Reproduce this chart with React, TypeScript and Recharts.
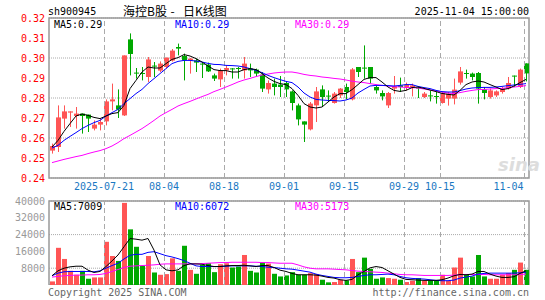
import {
  Bar,
  CartesianGrid,
  ComposedChart,
  Line,
  ReferenceArea,
  ReferenceLine,
  XAxis,
  YAxis,
} from "recharts";

const MONO = "'DejaVu Sans Mono', monospace";
const CJK = "'Noto Sans CJK SC', sans-serif";
const RED = "#ff5555";
const GREEN = "#00a800";
const GRID = "#aaaaaa";
const BORDER = "#999999";
const AXIS_BLUE = "#1a78c2";

const dates = [
  "07-08", "07-09", "07-10", "07-11", "07-14", "07-15", "07-16", "07-17", "07-18", "07-21",
  "07-22", "07-23", "07-24", "07-25", "07-28", "07-29", "07-30", "07-31", "08-01", "08-04",
  "08-05", "08-06", "08-07", "08-08", "08-11", "08-12", "08-13", "08-14", "08-15", "08-18",
  "08-19", "08-20", "08-21", "08-22", "08-25", "08-26", "08-27", "08-28", "08-29", "09-01",
  "09-02", "09-03", "09-04", "09-05", "09-08", "09-09", "09-10", "09-11", "09-12", "09-15",
  "09-16", "09-17", "09-18", "09-19", "09-22", "09-23", "09-24", "09-25", "09-26", "09-29",
  "09-30", "10-09", "10-10", "10-13", "10-14", "10-15", "10-16", "10-17", "10-20", "10-21",
  "10-22", "10-23", "10-24", "10-27", "10-28", "10-29", "10-30", "10-31", "11-03", "11-04",
];

const opens = [
  0.2537, 0.2555, 0.2697, 0.2727, 0.271, 0.2722, 0.2717, 0.2647, 0.2667, 0.2683,
  0.2783, 0.2763, 0.2713, 0.3093, 0.2927, 0.2925, 0.2905, 0.2962, 0.2937, 0.2955,
  0.2987, 0.3055, 0.301, 0.2988, 0.2988, 0.2972, 0.2967, 0.2913, 0.2893, 0.2938,
  0.2948, 0.295, 0.2938, 0.2947, 0.2942, 0.2917, 0.2843, 0.2872, 0.2867, 0.2875,
  0.2833, 0.2763, 0.2683, 0.2643, 0.2763, 0.2843, 0.2812, 0.2775, 0.2813, 0.2855,
  0.2793, 0.2955, 0.2952, 0.2955, 0.2855, 0.2825, 0.2763, 0.2847, 0.2863, 0.285,
  0.2855, 0.2852, 0.2805, 0.2813, 0.281, 0.2775, 0.2797, 0.2797, 0.2877, 0.2925,
  0.2922, 0.2925, 0.2842, 0.2805, 0.2813, 0.283, 0.2847, 0.2912, 0.2855, 0.2973,
];
const highs = [
  0.2572, 0.2763, 0.2763, 0.2733, 0.2755, 0.2722, 0.2717, 0.2688, 0.2697, 0.2793,
  0.2872, 0.2843, 0.3013, 0.3123, 0.295, 0.2955, 0.3005, 0.298, 0.2983, 0.3002,
  0.3045, 0.3072, 0.3022, 0.3, 0.2997, 0.2977, 0.2977, 0.2922, 0.2947, 0.2963,
  0.295, 0.2955, 0.3005, 0.2972, 0.2947, 0.293, 0.2888, 0.2897, 0.291, 0.288,
  0.2838, 0.2772, 0.2683, 0.278, 0.2855, 0.2863, 0.2838, 0.283, 0.285, 0.2872,
  0.295, 0.2955, 0.3063, 0.2955, 0.2863, 0.2838, 0.283, 0.291, 0.2902, 0.2877,
  0.2872, 0.2855, 0.283, 0.2838, 0.283, 0.283, 0.283, 0.2897, 0.2955, 0.2942,
  0.2927, 0.293, 0.2855, 0.2847, 0.2838, 0.2855, 0.2905, 0.2912, 0.2947, 0.2973,
];
const lows = [
  0.2522, 0.253, 0.2647, 0.2655, 0.2647, 0.2622, 0.263, 0.2638, 0.2638, 0.2663,
  0.2738, 0.27, 0.271, 0.2913, 0.2897, 0.2888, 0.288, 0.2905, 0.293, 0.2947,
  0.2982, 0.3013, 0.2888, 0.2922, 0.293, 0.29, 0.293, 0.2885, 0.2855, 0.2913,
  0.2897, 0.2897, 0.2897, 0.2905, 0.2905, 0.283, 0.2822, 0.2813, 0.2805, 0.2805,
  0.2738, 0.2663, 0.258, 0.2638, 0.268, 0.2755, 0.278, 0.2772, 0.28, 0.2793,
  0.2788, 0.2905, 0.2897, 0.2872, 0.2822, 0.2788, 0.275, 0.2822, 0.283, 0.2838,
  0.2808, 0.28, 0.28, 0.2783, 0.2772, 0.2772, 0.2762, 0.2768, 0.2867, 0.2897,
  0.2888, 0.2772, 0.2793, 0.2797, 0.2805, 0.2822, 0.2842, 0.2855, 0.285, 0.2883,
];
const closes = [
  0.256, 0.2703, 0.2733, 0.2733, 0.2722, 0.271, 0.2697, 0.2667, 0.268, 0.2783,
  0.2793, 0.2742, 0.3013, 0.302, 0.2922, 0.292, 0.2993, 0.2957, 0.2972, 0.3002,
  0.3037, 0.3047, 0.2988, 0.2997, 0.2977, 0.297, 0.2933, 0.2897, 0.2938, 0.295,
  0.2943, 0.2947, 0.2972, 0.2938, 0.2922, 0.2847, 0.2875, 0.2855, 0.2855, 0.2843,
  0.2775, 0.2693, 0.2667, 0.2772, 0.2833, 0.2805, 0.2808, 0.2822, 0.2847, 0.283,
  0.2943, 0.293, 0.2948, 0.2897, 0.2838, 0.2808, 0.2825, 0.2858, 0.2855, 0.2867,
  0.2863, 0.2847, 0.2822, 0.2808, 0.2805, 0.2825, 0.2822, 0.2842, 0.2933, 0.292,
  0.2905, 0.2847, 0.2825, 0.2838, 0.2833, 0.2847, 0.2875, 0.2908, 0.2942, 0.2923,
];

const ma5 = [
  0.2555, 0.2588, 0.2633, 0.2672, 0.271, 0.272, 0.2713, 0.2703, 0.2697, 0.271,
  0.2722, 0.2727, 0.2763, 0.2847, 0.2888, 0.293, 0.2955, 0.295, 0.295, 0.2972,
  0.2993, 0.3002, 0.3017, 0.301, 0.2997, 0.298, 0.296, 0.2942, 0.2937, 0.2937,
  0.293, 0.293, 0.2942, 0.2947, 0.2942, 0.2922, 0.29, 0.2883, 0.2872, 0.2867,
  0.2847, 0.2813, 0.2772, 0.2755, 0.275, 0.2755, 0.278, 0.2805, 0.2822, 0.2822,
  0.2842, 0.2867, 0.2893, 0.2902, 0.2902, 0.288, 0.2855, 0.2838, 0.2833, 0.2838,
  0.2852, 0.2855, 0.2848, 0.284, 0.2832, 0.2823, 0.2818, 0.2815, 0.2838, 0.2867,
  0.288, 0.2885, 0.288, 0.2867, 0.2855, 0.2842, 0.2847, 0.286, 0.2877, 0.2893,
];
const ma10 = [
  0.255, 0.2563, 0.2588, 0.2608, 0.2627, 0.2647, 0.2663, 0.2677, 0.2688, 0.271,
  0.2727, 0.2743, 0.2772, 0.2797, 0.2822, 0.2843, 0.2872, 0.2897, 0.2922, 0.2947,
  0.2972, 0.2983, 0.2988, 0.2988, 0.2985, 0.298, 0.2973, 0.2968, 0.2967, 0.2963,
  0.2962, 0.296, 0.2955, 0.2947, 0.2938, 0.2927, 0.2913, 0.2902, 0.2892, 0.2883,
  0.2877, 0.2855, 0.2825, 0.2805, 0.2793, 0.279, 0.2788, 0.2787, 0.2785, 0.279,
  0.28, 0.2825, 0.2843, 0.286, 0.2863, 0.2863, 0.2862, 0.286, 0.2863, 0.2867,
  0.2867, 0.2858, 0.2852, 0.2847, 0.2838, 0.2832, 0.283, 0.283, 0.2837, 0.2845,
  0.285, 0.2852, 0.2853, 0.2853, 0.2855, 0.2858, 0.2862, 0.2865, 0.2868, 0.2872,
];
const ma30 = [
  0.2477, 0.2485, 0.2493, 0.25, 0.2507, 0.2513, 0.2522, 0.253, 0.2537, 0.2547,
  0.256, 0.2577, 0.2597, 0.2613, 0.263, 0.2647, 0.2667, 0.2688, 0.271, 0.2727,
  0.2743, 0.276, 0.2772, 0.2783, 0.2795, 0.2807, 0.2818, 0.2832, 0.2843, 0.2855,
  0.2867, 0.288, 0.289, 0.2898, 0.2907, 0.2915, 0.292, 0.2925, 0.2928, 0.293,
  0.293, 0.2925, 0.2918, 0.2913, 0.291, 0.2905, 0.2902, 0.2898, 0.2895, 0.289,
  0.2884, 0.288, 0.2877, 0.2872, 0.2867, 0.2863, 0.286, 0.2857, 0.2855, 0.2853,
  0.2852, 0.285, 0.2845, 0.284, 0.2835, 0.283, 0.2825, 0.2822, 0.2827, 0.2833,
  0.2838, 0.2842, 0.2843, 0.2845, 0.2847, 0.2848, 0.2852, 0.2855, 0.2858, 0.2862,
];

const volumes = [
  1700, 17700, 12400, 6750, 4870, 6750, 2980, 3600, 3600, 20570,
  13800, 11460, 39100, 26500, 18200, 9100, 13800, 5960, 4870, 5180,
  12700, 6750, 18680, 7220, 5340, 9570, 10360, 6120, 9890, 10360,
  8320, 8790, 14290, 6750, 5960, 10670, 10200, 5340, 4080, 4550,
  6120, 4870, 4870, 5650, 5180, 2510, 1260, 1410, 2510, 2200,
  12400, 6120, 13030, 7690, 2980, 3610, 3300, 2980, 2510, 1410,
  2040, 3300, 2040, 2040, 2040, 4870, 2040, 8320, 13030, 4870,
  4080, 14290, 4080, 2980, 2980, 4870, 5650, 7220, 10680, 7220,
];
const volMa5 = [
  4400, 6750, 8000, 8640, 8950, 8950, 7070, 5970, 6440, 8790,
  11460, 14290, 18210, 22140, 21820, 21350, 22140, 16640, 9580, 7220,
  6750, 7220, 9260, 10050, 10050, 9890, 9260, 8790, 8790, 9110,
  9260, 9260, 9420, 9110, 8790, 9260, 9260, 8320, 7070, 6440,
  5500, 4870, 4870, 4870, 4710, 4240, 3610, 3300, 2510, 2200,
  2670, 4870, 6440, 8160, 8790, 8320, 6750, 5180, 3610, 2670,
  2510, 2350, 2200, 2200, 2200, 2510, 3300, 4400, 5020, 4870,
  5180, 6440, 6440, 5180, 4240, 3610, 3610, 3930, 5500, 6800,
];
const volMa10 = [
  4400, 5650, 6280, 6440, 6440, 6440, 6440, 6280, 6750, 8000,
  9260, 10360, 12400, 14130, 14600, 14600, 15540, 15860, 14920, 13970,
  13350, 12560, 11620, 10360, 9110, 8790, 8790, 8790, 8790, 8950,
  9110, 9110, 9110, 9110, 8950, 8790, 8480, 8320, 8000, 7690,
  7540, 7070, 6590, 6120, 5180, 4550, 4080, 3610, 3450, 3450,
  3610, 4080, 4550, 4870, 4870, 5020, 5180, 4870, 4080, 3450,
  3140, 2980, 2830, 2510, 2200, 2040, 2040, 2350, 3300, 3770,
  4240, 5180, 5500, 5650, 5650, 5650, 5650, 5650, 5810, 6070,
];
const volMa30 = [
  3770, 4080, 4400, 4550, 4710, 4710, 4870, 4870, 5020, 5500,
  6440, 7380, 8320, 8950, 9110, 9260, 9420, 9580, 9890, 10050,
  10050, 10050, 10050, 10050, 10050, 10200, 10360, 10520, 10680, 10680,
  10830, 10830, 10830, 10830, 10830, 10680, 10680, 10520, 10360, 10360,
  10360, 9580, 8640, 8000, 7690, 7690, 7690, 7540, 7380, 7220,
  6910, 6590, 6440, 6280, 6120, 5970, 5650, 5340, 5020, 4870,
  4870, 4710, 4550, 4550, 4550, 4550, 4550, 4710, 4870, 5020,
  5020, 5020, 5020, 4870, 4870, 4870, 4870, 4870, 5020, 5170,
];

const tickDates = ["07-21", "08-04", "08-18", "09-01", "09-15", "09-29", "10-15", "11-04"];
const tickLabels = ["2025-07-21", "08-04", "08-18", "09-01", "09-15", "09-29", "10-15", "11-04"];
const priceTicks = [0.24, 0.25, 0.26, 0.27, 0.28, 0.29, 0.3, 0.31, 0.32];
const volTicks = [8000, 16000, 24000, 32000, 40000];

const rows = dates.map((date, i) => ({
  date,
  open: opens[i],
  high: highs[i],
  low: lows[i],
  close: closes[i],
  up: closes[i] >= opens[i],
  ma5: ma5[i],
  ma10: ma10[i],
  ma30: ma30[i],
  vol: volumes[i],
  vma5: volMa5[i],
  vma10: volMa10[i],
  vma30: volMa30[i],
}));

function Candle(props: any) {
  const { x, y, height, payload } = props;
  const { open, close, high, low, up } = payload;
  const color = up ? RED : GREEN;
  const top = Math.min(y, y + height);
  const h = Math.abs(height);
  const span = high - low || 1e-9;
  const yOf = (v: number) => top + ((high - v) / span) * h;
  const left = Math.floor(x);
  const bodyTop = yOf(Math.max(open, close));
  const bodyBottom = yOf(Math.min(open, close));
  return (
    <g>
      <line x1={left + 2.5} x2={left + 2.5} y1={top} y2={top + h} stroke={color} />
      <rect x={left} y={bodyTop} width={5} height={Math.max(1, bodyBottom - bodyTop)} fill={color} />
    </g>
  );
}

function VolBar(props: any) {
  const { x, y, height, payload } = props;
  return (
    <rect
      x={Math.floor(x)}
      y={Math.min(y, y + height)}
      width={5}
      height={Math.abs(height)}
      fill={payload.up ? RED : GREEN}
    />
  );
}

function DateTick(props: any) {
  const { x, y, payload } = props;
  const idx = tickDates.indexOf(payload.value);
  const last = payload.value === dates[dates.length - 1];
  return (
    <text
      x={last ? x - 2.5 : x - 2}
      y={y}
      dy="0.71em"
      textAnchor={last ? "end" : "middle"}
      fill={AXIS_BLUE}
      fontSize={10}
      fontFamily={MONO}
    >
      {tickLabels[idx]}
    </text>
  );
}

const DashLine = (props: any) => (
  <line
    x1={props.x1 - 1.5}
    x2={props.x2 - 1.5}
    y1={props.y1}
    y2={props.y2}
    stroke={GRID}
    strokeDasharray="5 3"
  />
);

export default function App() {
  return (
    <div
      style={{
        position: "absolute",
        left: 0,
        top: 0,
        width: 545,
        height: 300,
        background: "#fff",
        overflow: "hidden",
      }}
    >
      <div style={{ position: "absolute", left: 0, top: 0 }}>
        <ComposedChart
          width={545}
          height={200}
          data={rows}
          margin={{ top: 18, right: 16, bottom: 0, left: 0 }}
        >
          <CartesianGrid vertical={false} stroke={GRID} strokeDasharray="1 1" />
          <XAxis
            dataKey="date"
            ticks={tickDates}
            interval={0}
            height={22}
            tickLine={false}
            axisLine={false}
            tickSize={0}
            tickMargin={5}
            tick={<DateTick />}
          />
          <YAxis
            domain={[0.24, 0.32]}
            ticks={priceTicks}
            width={49}
            tickLine={false}
            axisLine={false}
            tickSize={0}
            tickMargin={4}
            tickFormatter={(v: number) => v.toFixed(2)}
            tick={{ fill: "#ff0000", fontSize: 10, fontFamily: MONO }}
          />
          {tickDates.map((d) => (
            <ReferenceLine key={d} x={d} shape={DashLine} />
          ))}
          <Bar
            dataKey={(d: any) => [d.low, d.high]}
            barSize={5}
            shape={<Candle />}
            isAnimationActive={false}
          />
          <Line dataKey="ma30" stroke="#ff00ff" dot={false} activeDot={false} isAnimationActive={false} />
          <Line dataKey="ma10" stroke="#0000ff" dot={false} activeDot={false} isAnimationActive={false} />
          <Line dataKey="ma5" stroke="#000000" dot={false} activeDot={false} isAnimationActive={false} />
          <ReferenceArea
            y1={0.24}
            y2={0.32}
            fill="none"
            stroke={BORDER}
            strokeWidth={1.5}
            ifOverflow="visible"
          />
        </ComposedChart>
      </div>

      <div style={{ position: "absolute", left: 0, top: 195 }}>
        <ComposedChart
          width={545}
          height={90}
          data={rows}
          margin={{ top: 6, right: 16, bottom: 0, left: 0 }}
        >
          <CartesianGrid vertical={false} stroke={GRID} strokeDasharray="1 1" />
          <XAxis dataKey="date" hide />
          <YAxis
            domain={[0, 40000]}
            ticks={volTicks}
            width={49}
            tickLine={false}
            axisLine={false}
            tickSize={0}
            tickMargin={4}
            tick={{ fill: "#999999", fontSize: 10, fontFamily: MONO }}
          />
          {tickDates.map((d) => (
            <ReferenceLine key={d} x={d} shape={DashLine} />
          ))}
          <Bar dataKey="vol" barSize={5} shape={<VolBar />} isAnimationActive={false} />
          <Line dataKey="vma30" stroke="#ff00ff" dot={false} activeDot={false} isAnimationActive={false} />
          <Line dataKey="vma10" stroke="#0000ff" dot={false} activeDot={false} isAnimationActive={false} />
          <Line dataKey="vma5" stroke="#000000" dot={false} activeDot={false} isAnimationActive={false} />
          <ReferenceArea
            y1={0}
            y2={40000}
            fill="none"
            stroke={BORDER}
            strokeWidth={1.5}
            ifOverflow="visible"
          />
        </ComposedChart>
      </div>

      <svg
        width={545}
        height={300}
        style={{ position: "absolute", left: 0, top: 0, pointerEvents: "none" }}
        fontFamily={MONO}
        fontSize={10}
      >
        <text x={48} y={15} fill="#000">sh900945</text>
        <text x={123} y={15.5} fill="#000" fontSize={12} fontFamily={CJK}>海控B股</text>
        <text x={172.5} y={15.5} fill="#000" fontSize={12} fontFamily={CJK} textAnchor="middle">-</text>
        <text x={183} y={15.5} fill="#000" fontSize={12} fontFamily={CJK}>日K线图</text>
        <text x={529} y={15} fill="#000" textAnchor="end">2025-11-04 15:00:00</text>

        <text x={54} y={28} fill="#000">MA5:0.29</text>
        <text x={175} y={28} fill="#0000ff">MA10:0.29</text>
        <text x={295} y={28} fill="#ff00ff">MA30:0.29</text>

        <text x={54} y={210} fill="#000">MA5:7009</text>
        <text x={175} y={210} fill="#0000ff">MA10:6072</text>
        <text x={295} y={210} fill="#ff00ff">MA30:5173</text>

        <text
          x={498}
          y={171}
          fill="#dddddd"
          fontSize={18}
          fontStyle="italic"
          fontWeight="bold"
          fontFamily="'DejaVu Sans', sans-serif"
        >
          sina
        </text>

        <text x={48} y={295.5} fill="#666">Copyright 2025 SINA.COM</text>
        <text x={529} y={295.5} fill="#666" textAnchor="end">http://finance.sina.com.cn</text>
      </svg>
    </div>
  );
}
